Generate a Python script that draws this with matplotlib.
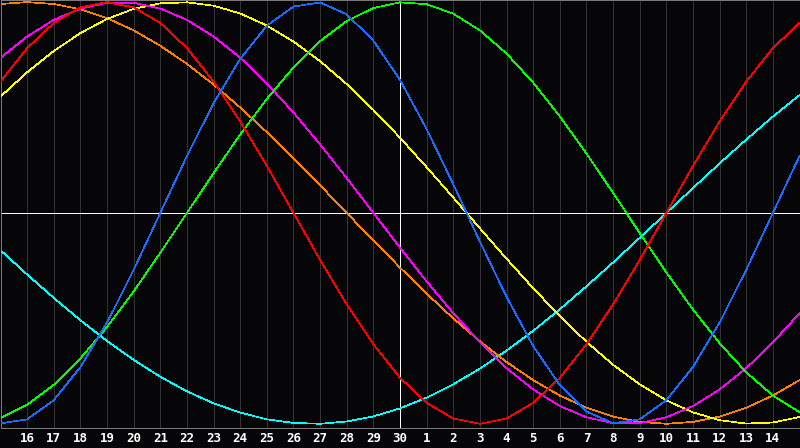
import numpy as np
import matplotlib.pyplot as plt

# day labels along the bottom (index 0 and 30 are the unlabeled edges)
day_labels = ['16', '17', '18', '19', '20', '21', '22', '23', '24', '25', '26', '27', '28', '29', '30',
              '1', '2', '3', '4', '5', '6', '7', '8', '9', '10', '11', '12', '13', '14']
today_index = 15

# cycle values read at each day line, index 0 .. 30
physical = [-0.998, -0.979, -0.888, -0.731, -0.520, -0.270, 0.000, 0.270, 0.520, 0.731, 0.888,
            0.979, 0.998, 0.942, 0.817, 0.631, 0.398, 0.136, -0.136, -0.398, -0.631,
            -0.817, -0.942, -0.998, -0.979, -0.888, -0.731, -0.520, -0.270, 0.000, 0.270]
emotional = [0.623, 0.782, 0.901, 0.975, 1.000, 0.975, 0.901, 0.782, 0.623, 0.434, 0.223,
             0.000, -0.223, -0.434, -0.623, -0.782, -0.901, -0.975, -1.000, -0.975, -0.901,
             -0.782, -0.623, -0.434, -0.223, 0.000, 0.223, 0.434, 0.623, 0.782, 0.901]
intellectual = [-0.972, -0.910, -0.815, -0.690, -0.541, -0.372, -0.189, 0.000, 0.189, 0.372, 0.541,
                0.690, 0.815, 0.910, 0.972, 0.999, 0.990, 0.945, 0.866, 0.756, 0.618,
                0.458, 0.282, 0.095, -0.095, -0.282, -0.458, -0.618, -0.756, -0.866, -0.945]
intuitive = [0.736, 0.837, 0.916, 0.969, 0.997, 0.997, 0.969, 0.916, 0.837, 0.736, 0.614,
             0.476, 0.325, 0.165, 0.000, -0.165, -0.325, -0.476, -0.614, -0.736, -0.837,
             -0.916, -0.969, -0.997, -0.997, -0.969, -0.916, -0.837, -0.736, -0.614, -0.476]
aesthetic = [0.552, 0.667, 0.768, 0.853, 0.920, 0.968, 0.994, 0.999, 0.983, 0.946, 0.889,
             0.813, 0.720, 0.611, 0.489, 0.357, 0.217, 0.073, -0.073, -0.217, -0.357,
             -0.489, -0.611, -0.720, -0.813, -0.889, -0.946, -0.983, -0.999, -0.994, -0.968]
awareness = [0.991, 1.000, 0.991, 0.966, 0.924, 0.866, 0.793, 0.707, 0.609, 0.500, 0.383,
             0.259, 0.131, 0.000, -0.131, -0.259, -0.383, -0.500, -0.609, -0.707, -0.793,
             -0.866, -0.924, -0.966, -0.991, -1.000, -0.991, -0.966, -0.924, -0.866, -0.793]
spiritual = [-0.177, -0.292, -0.403, -0.509, -0.607, -0.697, -0.777, -0.846, -0.903, -0.947, -0.979,
             -0.996, -1.000, -0.989, -0.965, -0.927, -0.876, -0.813, -0.738, -0.653, -0.559,
             -0.457, -0.348, -0.235, -0.118, 0.000, 0.118, 0.235, 0.348, 0.457, 0.559]

series = [(spiritual, '#00ffff'), (awareness, '#ff8000'), (aesthetic, '#ffff00'),
          (intuitive, '#ff00ff'), (intellectual, '#00ff00'), (emotional, '#ff0000'),
          (physical, '#1a6bff')]

bg = '#060608'
px = 0.72  # one pixel at dpi 100
fig = plt.figure(figsize=(8, 4.48), dpi=100, facecolor=bg)
ax = fig.add_axes([0.5 / 800, 20 / 448, 799 / 800, 428 / 448])
ax.set_facecolor(bg)

x = np.arange(len(physical))
ax.set_xlim(0, len(physical) - 1)
ax.set_ylim(-1.02, 1.01)

# day grid
for i in range(1, len(physical) - 1):
    if i != today_index:
        ax.axvline(i, color='#333333', lw=px, zorder=1, antialiased=False)
ax.axhline(0, color='white', lw=px, zorder=2, antialiased=False)
ax.axvline(today_index, color='white', lw=px, zorder=2, antialiased=False)

for vals, col in series:
    ax.plot(x, vals, color=col, lw=0.5, zorder=3, antialiased=False)

ax.set_xticks(range(1, len(physical) - 1))
ax.set_xticklabels(day_labels, family='DejaVu Sans Mono', fontweight='bold', fontsize=9)
ax.tick_params(axis='x', length=0, pad=3, labelcolor='white')
ax.set_yticks([])
for s in ax.spines.values():
    s.set_color('#7a7a7a')
    s.set_linewidth(px)

fig.savefig('out.png', dpi=100, facecolor=bg)
